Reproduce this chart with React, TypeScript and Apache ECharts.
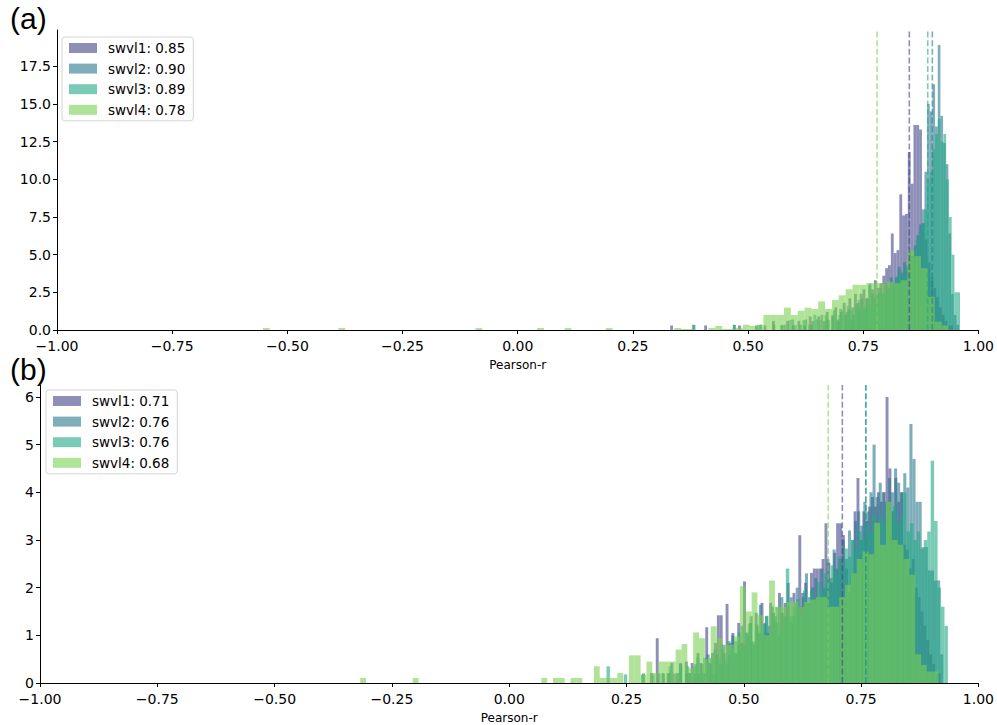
import React, { useEffect, useRef } from 'react';
import * as echarts from 'echarts';

// ---------- tick values ----------
const X_TICKS = [-1, -0.75, -0.5, -0.25, 0, 0.25, 0.5, 0.75, 1];
const Y_TICKS_A = [0, 2.5, 5, 7.5, 10, 12.5, 15, 17.5];
const Y_TICKS_B = [0, 1, 2, 3, 4, 5, 6];

// ---------- panel (a) ----------
const NAMES_A = ['swvl1: 0.85', 'swvl2: 0.90', 'swvl3: 0.89', 'swvl4: 0.78'];
const MEANS_A = [0.85, 0.9, 0.89, 0.78];
const RANGES_A = [[0.331, 0.945], [0.38, 0.958], [0.36, 0.96], [-0.553, 0.935]];

const A1 = [
  0.3, 0, 0, 0, 0, 0, 0, 0, 0, 0,
  0, 0, 0.3, 0, 0, 0, 0, 0, 0, 0,
  0, 0, 0, 0, 0.3, 0, 0, 0, 0, 0,
  0.3, 0, 0, 0.3, 0, 0, 0.6, 0, 0, 0.3,
  0, 0.6, 0, 0.3, 0, 0.6, 0, 0.3, 0, 0.9,
  0.6, 0, 0.9, 0, 0.6, 1.2, 0, 0.9, 1.5, 0.6,
  1.2, 1.8, 1.2, 2.1, 1.5, 2.4, 1.8, 2.4, 2.7, 2.1,
  3.0, 2.7, 3.3, 2.8, 3.1, 3.6, 4.1, 4.3, 6.4, 5.1,
  5.3, 9.0, 7.6, 7.7, 11.8, 9.7, 13.6, 13.6, 13.3, 7.1,
  6.0, 4.5, 3.5, 2.8, 2.2, 1.5, 1.0, 0.6, 0.3, 0.3,
];
const A2 = [
  0.35, 0, 0, 0, 0, 0, 0, 0, 0, 0,
  0, 0, 0, 0, 0, 0.35, 0, 0, 0, 0,
  0, 0, 0, 0, 0, 0.35, 0, 0, 0, 0,
  0.35, 0, 0, 0, 0.35, 0, 0, 0.7, 0, 0,
  0.35, 0, 0.7, 0, 0.35, 0, 0.7, 0, 1.0, 0,
  0.7, 0, 1.0, 0, 0.7, 1.4, 0, 1.0, 1.4, 0.7,
  1.0, 1.7, 1.4, 2.1, 1.4, 2.1, 1.7, 2.4, 2.1, 2.4,
  2.8, 2.4, 3.1, 2.8, 3.5, 3.1, 3.5, 4.2, 3.8, 4.5,
  4.2, 5.2, 4.9, 5.6, 6.3, 7.0, 8.0, 10.5, 15.0, 14.5,
  16.3, 13.5, 18.9, 14.2, 12.4, 11.0, 6.4, 2.4, 1.0, 0.35,
];
const A3 = [
  0, 0, 0, 0.33, 0, 0, 0, 0, 0, 0,
  0, 0, 0, 0, 0, 0, 0, 0, 0.33, 0,
  0, 0, 0, 0, 0, 0, 0, 0.33, 0, 0,
  0, 0, 0.33, 0, 0, 0.33, 0, 0, 0.66, 0,
  0.33, 0, 0, 0.66, 0, 0.33, 0, 1.0, 0, 0.66,
  0, 1.0, 0.66, 0, 1.3, 0.66, 1.0, 1.3, 0.66, 1.6,
  1.3, 1.0, 1.6, 2.0, 1.3, 1.6, 2.0, 3.1, 1.6, 2.3,
  2.0, 2.6, 2.3, 3.0, 2.6, 3.3, 3.0, 3.6, 4.0, 3.6,
  4.3, 4.0, 4.9, 5.3, 6.0, 6.5, 7.0, 8.0, 10.0, 10.5,
  12.0, 13.0, 14.0, 12.5, 13.0, 10.0, 7.5, 5.0, 2.5, 2.5,
];
const A4 = [
  0.135, 0, 0, 0, 0, 0, 0, 0, 0, 0,
  0, 0.135, 0, 0, 0, 0, 0, 0, 0, 0,
  0, 0, 0, 0, 0, 0, 0, 0, 0, 0,
  0, 0.135, 0, 0, 0, 0, 0, 0, 0, 0,
  0.135, 0, 0, 0, 0.135, 0, 0, 0, 0, 0,
  0.135, 0, 0, 0, 0, 0, 0, 0, 0, 0,
  0.135, 0.07, 0.07, 0, 0, 0.135, 0.27, 0.07, 0.07, 0.135,
  0.35, 0.27, 0.35, 1.0, 1.0, 1.0, 1.48, 1.0, 1.28, 1.48,
  1.4, 1.9, 1.4, 2.0, 2.3, 2.7, 3.0, 3.0, 3.1, 3.1,
  3.1, 3.2, 3.1, 3.3, 5.3, 4.9, 4.1, 2.2, 0.55, 0.3,
];

// ---------- panel (b) ----------
const NAMES_B = ['swvl1: 0.71', 'swvl2: 0.76', 'swvl3: 0.76', 'swvl4: 0.68'];
const MEANS_B = [0.71, 0.76, 0.76, 0.68];
const RANGES_B = [[0.3, 0.92], [0.27, 0.925], [0.2, 0.935], [-0.33, 0.915]];

const B1 = [
  0.21, 0, 0.94, 0, 0.21, 0, 0.21, 0.42, 0, 0.21,
  0.42, 0, 0.45, 0.21, 0.42, 0.21, 0.63, 0.42, 0.21, 1.17,
  0.42, 0.63, 0.84, 1.42, 1.42, 0.63, 1.66, 0.84, 1.05, 0.63,
  1.26, 0.84, 2.13, 1.05, 1.26, 0.84, 1.47, 1.05, 1.68, 1.26,
  1.05, 1.68, 1.47, 1.26, 1.89, 1.47, 1.68, 2.1, 1.26, 1.89,
  1.68, 3.1, 1.89, 2.1, 1.68, 2.31, 2.4, 2.4, 2.4, 2.6,
  3.35, 2.52, 2.1, 2.73, 3.35, 3.35, 3.1, 2.4, 1.9, 2.3,
  3.6, 4.3, 3.0, 3.6, 3.4, 3.7, 3.9, 3.7, 4.0, 3.8,
  4.0, 6.0, 4.5, 3.6, 4.3, 3.8, 4.0, 2.9, 2.8, 2.4,
  2.6, 2.0, 1.8, 1.5, 1.2, 0.9, 0.6, 0.4, 0.2, 0.2,
];
const B2 = [
  0, 0, 0.2, 0, 0, 0, 0, 0.2, 0, 0,
  0.2, 0, 0.2, 0, 0.4, 0, 0.2, 0.2, 0, 0.4,
  0.2, 0.4, 0, 0.6, 0.4, 0.2, 0.6, 0.4, 0.8, 0.4,
  0.6, 1.0, 0.6, 0.8, 1.2, 0.8, 1.0, 1.4, 0.8, 1.2,
  1.64, 1.0, 1.4, 1.2, 1.6, 1.4, 1.0, 1.8, 1.4, 1.6,
  1.8, 1.4, 2.0, 1.6, 1.8, 2.3, 1.8, 2.0, 2.2, 1.8,
  2.4, 2.0, 2.6, 2.2, 2.8, 2.4, 2.6, 3.0, 2.6, 3.2,
  3.0, 3.4, 3.6, 3.3, 3.8, 3.6, 4.0, 5.0, 3.9, 4.2,
  4.0, 3.8, 4.3, 4.0, 4.5, 4.2, 4.0, 4.4, 4.1, 5.43,
  4.7, 3.8, 3.8, 2.85, 2.85, 2.36, 2.36, 2.15, 2.15, 0.6,
];
const B3 = [
  0, 0.35, 0, 0, 0, 0, 0.18, 0, 0, 0,
  0, 0.18, 0, 0, 0.18, 0, 0, 0.18, 0, 0.35,
  0, 0.18, 0.35, 0, 0.35, 0.18, 0.35, 0.53, 0.18, 0.53,
  0.35, 0.53, 0.7, 0.53, 0.7, 0.53, 0.88, 0.7, 0.88, 1.06,
  0.7, 1.06, 1.23, 0.88, 1.23, 1.06, 1.23, 1.41, 1.06, 1.41,
  1.59, 1.23, 1.41, 2.4, 1.41, 1.59, 1.76, 1.41, 1.94, 1.59,
  1.94, 1.76, 2.12, 1.94, 2.3, 2.12, 2.47, 2.3, 2.65, 2.47,
  2.82, 2.65, 3.0, 2.82, 3.18, 3.0, 3.35, 3.18, 3.53, 3.35,
  3.53, 3.35, 3.7, 3.53, 3.7, 3.35, 3.53, 4.0, 3.18, 3.35,
  3.0, 3.18, 2.82, 3.0, 3.18, 4.66, 3.4, 2.0, 1.6, 1.2,
];
const B4 = [
  0, 0.105, 0, 0, 0, 0, 0, 0, 0, 0,
  0.105, 0, 0, 0, 0, 0, 0, 0, 0, 0,
  0, 0, 0, 0, 0, 0, 0, 0, 0, 0,
  0, 0, 0.105, 0, 0.105, 0.105, 0, 0.105, 0.105, 0,
  0, 0.35, 0.105, 0.105, 0.105, 0.21, 0, 0.58, 0.58, 0.17,
  0.45, 0.21, 0.45, 0.45, 0.45, 0.7, 0.82, 0.31, 1.06, 0.94,
  0.5, 1.19, 0.94, 0.8, 0.8, 0.98, 2.03, 1.5, 1.9, 1.43,
  1.0, 2.15, 1.6, 1.6, 1.7, 1.7, 1.6, 1.7, 1.75, 1.8,
  1.8, 1.6, 1.6, 1.8, 2.06, 2.3, 2.6, 2.76, 2.7, 3.36,
  2.9, 3.8, 3.0, 2.9, 2.6, 2.27, 0.6, 0.38, 0.24, 0.24,
];

const COLORS = [
  'rgba(65,68,135,0.6)',
  'rgba(42,120,142,0.6)',
  'rgba(34,168,132,0.6)',
  'rgba(122,209,81,0.6)',
];

const Y_MAX_A = 19.9;
const Y_MAX_B = 6.25;

const FONT = 'DejaVu Sans';

function fmtX(v: number) {
  return v.toFixed(2).replace('-', '\u2212');
}

function histSeries(name: string, values: number[], range: number[], color: string, idx: number) {
  const [lo, hi] = range;
  const w = (hi - lo) / values.length;
  const data = values.map((v, i) => [lo + i * w, lo + (i + 1) * w, v]);
  return {
    type: 'custom',
    name,
    xAxisIndex: idx,
    yAxisIndex: idx,
    data,
    encode: { x: [0, 1], y: 2 },
    itemStyle: { color },
    silent: true,
    renderItem: (_params: any, api: any) => {
      const x0 = api.value(0);
      const x1 = api.value(1);
      const h = api.value(2);
      const p0 = api.coord([x0, h]);
      const p1 = api.coord([x1, 0]);
      return {
        type: 'rect',
        shape: { x: p0[0], y: p0[1], width: p1[0] - p0[0], height: p1[1] - p0[1] },
        style: { fill: color },
      };
    },
  };
}

function meanLine(m: number, ymax: number, color: string, idx: number) {
  return {
    type: 'line',
    name: 'mean-' + idx + '-' + m,
    xAxisIndex: idx,
    yAxisIndex: idx,
    data: [[m, 0], [m, ymax]],
    symbol: 'none',
    silent: true,
    lineStyle: { color, width: 1.6, type: [6, 2.6] },
  };
}

function xAxisCfg(idx: number) {
  return {
    type: 'value',
    gridIndex: idx,
    min: -1,
    max: 1,
    interval: 0.25,
    name: 'Pearson-r',
    nameLocation: 'middle',
    nameGap: 29,
    nameTextStyle: { fontFamily: FONT, fontSize: 12, color: '#000' },
    axisLine: { show: true, onZero: false, lineStyle: { color: '#000', width: 1 } },
    axisTick: { show: true, length: 4, lineStyle: { color: '#000', width: 1 }, customValues: X_TICKS },
    axisLabel: { fontFamily: FONT, fontSize: 14, lineHeight: 13, color: '#000', margin: 9, formatter: (v: number) => fmtX(v), customValues: X_TICKS },
    splitLine: { show: false },
  };
}

function yAxisCfg(idx: number, max: number, interval: number, ticks: number[], digits: number) {
  return {
    type: 'value',
    gridIndex: idx,
    min: 0,
    max,
    interval,
    axisLine: { show: true, onZero: false, lineStyle: { color: '#000', width: 1 } },
    axisTick: { show: true, length: 4, lineStyle: { color: '#000', width: 1 }, customValues: ticks },
    axisLabel: { fontFamily: FONT, fontSize: 14, lineHeight: 12, color: '#000', margin: 6, formatter: (v: number) => v.toFixed(digits), customValues: ticks },
    splitLine: { show: false },
  };
}

function legendCfg(names: string[], left: number, top: number) {
  return {
    data: names,
    orient: 'vertical',
    left,
    top,
    icon: 'rect',
    itemWidth: 28,
    itemHeight: 10,
    itemGap: 6.6,
    padding: [4, 8, 4, 7],
    backgroundColor: 'rgba(255,255,255,0.8)',
    borderColor: '#d4d4d4',
    borderWidth: 1,
    borderRadius: 3,
    selectedMode: false,
    textStyle: { fontFamily: FONT, fontSize: 13.5, color: '#000', padding: [0, 0, 0, 6] },
  };
}

export default function App() {
  const ref = useRef<HTMLDivElement>(null);
  useEffect(() => {
    if (!ref.current) return;
    const chart = echarts.init(ref.current, null, { renderer: 'svg' });
    const A = [A1, A2, A3, A4];
    const B = [B1, B2, B3, B4];
    const series: any[] = [];
    for (let k = 0; k < 4; k++) {
      series.push(histSeries(NAMES_A[k], A[k], RANGES_A[k], COLORS[k], 0));
      series.push(meanLine(MEANS_A[k], Y_MAX_A, COLORS[k], 0));
    }
    for (let k = 0; k < 4; k++) {
      series.push(histSeries(NAMES_B[k], B[k], RANGES_B[k], COLORS[k], 1));
      series.push(meanLine(MEANS_B[k], Y_MAX_B, COLORS[k], 1));
    }
    chart.setOption({
      animation: false,
      backgroundColor: '#fff',
      grid: [
        { left: 57, right: 17, top: 30, height: 300 },
        { left: 40, right: 17, top: 385, height: 298 },
      ],
      xAxis: [xAxisCfg(0), xAxisCfg(1)],
      yAxis: [
        yAxisCfg(0, Y_MAX_A, 2.5, Y_TICKS_A, 1),
        yAxisCfg(1, Y_MAX_B, 1, Y_TICKS_B, 0),
      ],
      legend: [legendCfg(NAMES_A, 62, 37), legendCfg(NAMES_B, 46, 390)],
      graphic: [
        { type: 'text', left: 10, top: 3, style: { text: '(a)', font: '30px "Liberation Sans", Arial, sans-serif', fill: '#000' } },
        { type: 'text', left: 10, top: 354, style: { text: '(b)', font: '30px "Liberation Sans", Arial, sans-serif', fill: '#000' } },
      ],
      series,
    });
    return () => chart.dispose();
  }, []);
  return <div ref={ref} style={{ position: 'fixed', left: 0, top: 0, width: 997, height: 725 }} />;
}
